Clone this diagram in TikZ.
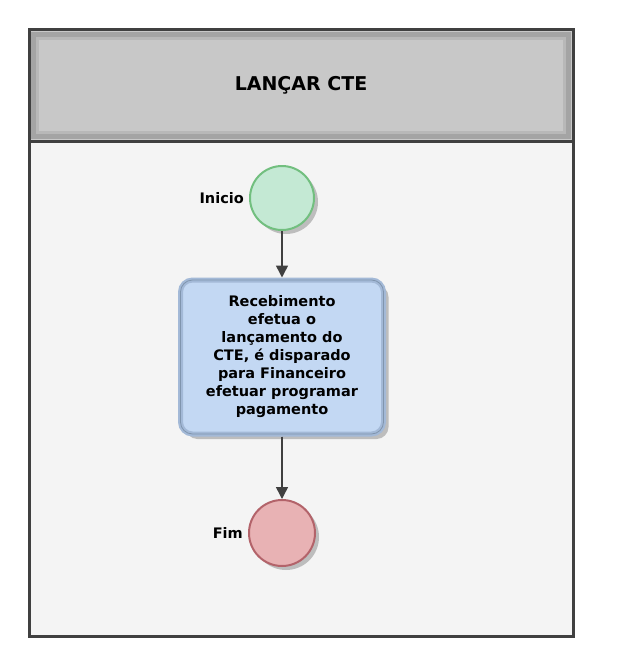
\documentclass[tikz,border=0pt]{standalone}
\usepackage{fontspec}
\setmainfont{DejaVu Sans}
\usepackage{xcolor}
\usetikzlibrary{arrows.meta, positioning, shadows}

\definecolor{moldura}{HTML}{404040}
\definecolor{cabecalho}{HTML}{C8C8C8}
\definecolor{bisel}{HTML}{A4A4A4}
\definecolor{bisel2}{HTML}{B8B8B8}
\definecolor{corpo}{HTML}{F4F4F4}
\definecolor{sombra}{HTML}{BDBDBD}
\definecolor{iniciofundo}{HTML}{C4E9D4}
\definecolor{iniciolinha}{HTML}{72BF7F}
\definecolor{fimfundo}{HTML}{E8B2B4}
\definecolor{fimlinha}{HTML}{B3636A}
\definecolor{tarefafundo}{HTML}{C3D8F3}
\definecolor{tarefameio}{HTML}{A3B9D7}
\definecolor{tarefaborda}{HTML}{8095AE}

\begin{document}
\begin{tikzpicture}[
    x=1pt, y=-1pt,
    font=\bfseries\fontsize{14.5}{18}\selectfont,
    evento/.style={circle, minimum size=64pt, inner sep=0pt, line width=2pt,
                   drop shadow={shadow xshift=4pt, shadow yshift=-4pt, fill=sombra, opacity=1}},
    tarefa/.style={rounded corners=12pt, minimum width=203pt, minimum height=154pt,
                   align=center, inner sep=2pt, fill=tarefafundo, draw=tarefameio, line width=5pt,
                   postaction={draw=tarefaborda, line width=0.8pt},
                   drop shadow={shadow xshift=5pt, shadow yshift=-5pt, fill=sombra, opacity=1}},
    rotulo/.style={inner sep=1pt},
    seta/.style={-{Triangle[length=12pt, width=12pt]}, line width=1.5pt, draw=moldura, fill=moldura}
  ]
    \useasboundingbox (0,0) rectangle (616,669);

    % raia
    \fill[corpo] (29,30) rectangle (573,636);
    \fill[cabecalho] (29,30) rectangle (573,141);
    \draw[bisel, line width=5pt] (33.5,34.5) rectangle (568.5,136.5);
    \draw[bisel2, line width=2.5pt] (37.5,38.5) rectangle (564.5,132.5);
    \draw[moldura, line width=3pt] (29,30) rectangle (573,636);
    \draw[moldura, line width=3pt] (29,141) -- (573,141);
    \node (titulo) at (301,85) {\fontsize{19}{23}\selectfont LANÇAR CTE};

    % fluxo
    \node[evento, fill=iniciofundo, draw=iniciolinha] (inicio) at (282,198) {};
    \node[rotulo, left=4pt of inicio] (rotinicio) {Inicio};
    \node[tarefa] (lancar) at (282,357) {Recebimento\\efetua o\\lançamento do\\CTE, é disparado\\para Financeiro\\efetuar programar\\pagamento};
    \node[evento, fill=fimfundo, draw=fimlinha, minimum size=66pt] (fim) at (282,533) {};
    \node[rotulo, left=4pt of fim] (rotfim) {Fim};

    \draw[seta] (inicio) -- (lancar);
    \draw[seta] (lancar) -- (fim);
\end{tikzpicture}
\end{document}
